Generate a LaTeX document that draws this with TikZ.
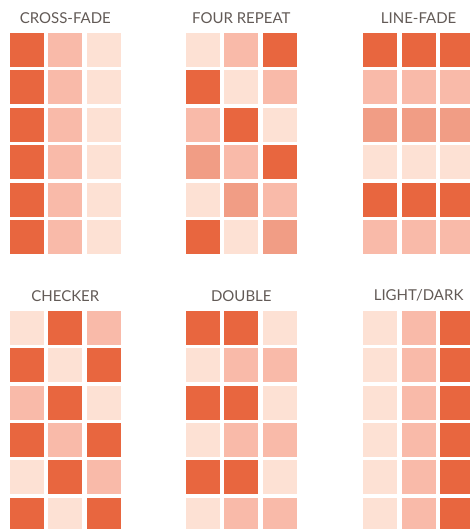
\documentclass[tikz,border=0pt]{standalone}
\usepackage{fontspec}
\setmainfont{Lato}
\definecolor{cD}{HTML}{E8663F}
\definecolor{cM}{HTML}{F19D85}
\definecolor{cP}{HTML}{F9BAA9}
\definecolor{cL}{HTML}{FDE1D4}
\definecolor{titlegray}{HTML}{625A56}
\tikzset{
  paneltitle/.style={text=titlegray, font=\fontsize{15}{18}\selectfont, inner sep=0pt, anchor=center},
}
% #1 name, #2 x0, #3 y0, #4 title, #5 rows
\newcommand{\gridpanel}[5]{%
  \node[paneltitle] (#1) at ({#2+55.3},{#3-15}) {#4};
  \foreach \a/\b/\c [count=\i from 0] in {#5} {
    \fill[\a] ({#2},{#3+\i*37.4}) rectangle ++(34,34);
    \fill[\b] ({#2+38.3},{#3+\i*37.4}) rectangle ++(34,34);
    \fill[\c] ({#2+76.6},{#3+\i*37.4}) rectangle ++(34,34);
  }%
}
\begin{document}
\begin{tikzpicture}[x=1pt,y=-1pt]
\useasboundingbox (0,0) rectangle (470,529);
\gridpanel{crossfade}{10}{33}{CROSS-FADE}{cD/cP/cL,cD/cP/cL,cD/cP/cL,cD/cP/cL,cD/cP/cL,cD/cP/cL}
\gridpanel{fourrepeat}{186}{33}{FOUR REPEAT}{cL/cP/cD,cD/cL/cP,cP/cD/cL,cM/cP/cD,cL/cM/cP,cD/cL/cM}
\gridpanel{linefade}{363.3}{33}{LINE-FADE}{cD/cD/cD,cP/cP/cP,cM/cM/cM,cL/cL/cL,cD/cD/cD,cP/cP/cP}
\gridpanel{checker}{10}{310.7}{CHECKER}{cL/cD/cP,cD/cL/cD,cP/cD/cL,cD/cP/cD,cL/cD/cP,cD/cL/cD}
\gridpanel{double}{186}{310.7}{DOUBLE}{cD/cD/cL,cL/cP/cP,cD/cD/cL,cL/cP/cP,cD/cD/cL,cL/cP/cP}
\gridpanel{lightdark}{363.3}{310.7}{LIGHT/DARK}{cL/cP/cD,cL/cP/cD,cL/cP/cD,cL/cP/cD,cL/cP/cD,cL/cP/cD}
\end{tikzpicture}
\end{document}
